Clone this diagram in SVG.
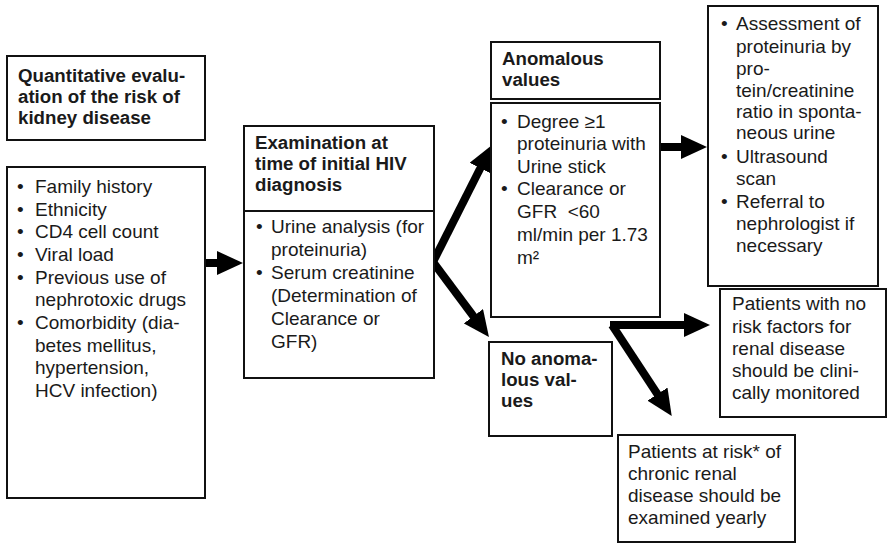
<svg xmlns="http://www.w3.org/2000/svg" width="887" height="544" viewBox="0 0 887 544">
<style>
.box{fill:#fff;stroke:#111;stroke-width:2}
.t{font-family:"Liberation Sans",Arial,sans-serif;font-size:19px;fill:#1a1a1a}
.b{font-weight:bold;font-size:18.7px}
.arr{stroke:#000;stroke-width:8;fill:none;marker-end:url(#ah)}
</style>
<defs>
<marker id="ah" markerUnits="userSpaceOnUse" markerWidth="26" markerHeight="24" viewBox="0 0 26 24" refX="1" refY="12" orient="auto">
<path d="M0,0 L26,12 L0,24 Z" fill="#000"/>
</marker>
</defs>
<g id="connectors">
<line class="arr" x1="205" y1="263" x2="218" y2="263"/>
<line class="arr" x1="660" y1="147" x2="682" y2="147"/>
<line class="arr" x1="433" y1="262" x2="480.8" y2="167.3"/>
<line class="arr" x1="433" y1="262" x2="474" y2="317"/>
<line class="arr" x1="610" y1="325" x2="685" y2="325"/>
<line class="arr" x1="612" y1="325" x2="658" y2="395"/>
</g>
<g id="n1">
<rect class="box" x="7" y="56" width="198" height="84"/>
<text class="t b" x="18" y="82">Quantitative evalu-</text>
<text class="t b" x="18" y="103">ation of the risk of</text>
<text class="t b" x="18" y="124">kidney disease</text>
</g>
<g id="n2">
<rect class="box" x="7" y="167" width="198" height="331"/>
<g class="t">
<text x="17" y="193">•</text><text x="35" y="193">Family history</text>
<text x="17" y="216">•</text><text x="35" y="216">Ethnicity</text>
<text x="17" y="238">•</text><text x="35" y="238">CD4 cell count</text>
<text x="17" y="261">•</text><text x="35" y="261">Viral load</text>
<text x="17" y="284">•</text><text x="35" y="284">Previous use of</text>
<text x="35" y="306">nephrotoxic drugs</text>
<text x="17" y="329">•</text><text x="35" y="329">Comorbidity (dia-</text>
<text x="35" y="352">betes mellitus,</text>
<text x="35" y="374">hypertension,</text>
<text x="35" y="397">HCV infection)</text>
</g>
</g>
<g id="n3">
<rect class="box" x="244" y="126" width="190" height="85"/>
<text class="t b" x="255" y="149">Examination at</text>
<text class="t b" x="255" y="170">time of initial HIV</text>
<text class="t b" x="255" y="191">diagnosis</text>
</g>
<g id="n4">
<rect class="box" x="244" y="211" width="190" height="167"/>
<g class="t">
<text x="256" y="233">•</text><text x="271" y="233">Urine analysis (for</text>
<text x="271" y="256">proteinuria)</text>
<text x="256" y="279">•</text><text x="271" y="279">Serum creatinine</text>
<text x="271" y="302">(Determination of</text>
<text x="271" y="325">Clearance or</text>
<text x="271" y="348">GFR)</text>
</g>
</g>
<g id="n5">
<rect class="box" x="491" y="42" width="169" height="57"/>
<text class="t b" x="502" y="65">Anomalous</text>
<text class="t b" x="502" y="86">values</text>
</g>
<g id="n6">
<rect class="box" x="491" y="103" width="169" height="214"/>
<g class="t">
<text x="501" y="128">•</text><text x="517" y="128">Degree ≥1</text>
<text x="517" y="150">proteinuria with</text>
<text x="517" y="173">Urine stick</text>
<text x="501" y="195">•</text><text x="517" y="195">Clearance or</text>
<text x="517" y="218" xml:space="preserve">GFR  &lt;60</text>
<text x="517" y="241">ml/min per 1.73</text>
<text x="517" y="264">m²</text>
</g>
</g>
<g id="n7">
<rect class="box" x="708" y="6" width="170" height="280"/>
<g class="t">
<text x="721" y="30">•</text><text x="736" y="30">Assessment of</text>
<text x="736" y="53">proteinuria by</text>
<text x="736" y="75">pro-</text>
<text x="736" y="97">tein/creatinine</text>
<text x="736" y="118">ratio in sponta-</text>
<text x="736" y="139">neous urine</text>
<text x="721" y="163">•</text><text x="736" y="163">Ultrasound</text>
<text x="736" y="185">scan</text>
<text x="721" y="208">•</text><text x="736" y="208">Referral to</text>
<text x="736" y="230">nephrologist if</text>
<text x="736" y="252">necessary</text>
</g>
</g>
<g id="n8">
<rect class="box" x="489" y="342" width="123" height="94"/>
<text class="t b" x="501" y="365">No anoma-</text>
<text class="t b" x="501" y="386">lous val-</text>
<text class="t b" x="501" y="407">ues</text>
</g>
<g id="n9">
<rect class="box" x="720" y="289" width="166" height="128"/>
<g class="t">
<text x="732" y="310">Patients with no</text>
<text x="732" y="333">risk factors for</text>
<text x="732" y="355">renal disease</text>
<text x="732" y="377">should be clini-</text>
<text x="732" y="399">cally monitored</text>
</g>
</g>
<g id="n10">
<rect class="box" x="618" y="435" width="177" height="107"/>
<g class="t">
<text x="628" y="458">Patients at risk* of</text>
<text x="628" y="480">chronic renal</text>
<text x="628" y="502">disease should be</text>
<text x="628" y="524">examined yearly</text>
</g>
</g>
</svg>
